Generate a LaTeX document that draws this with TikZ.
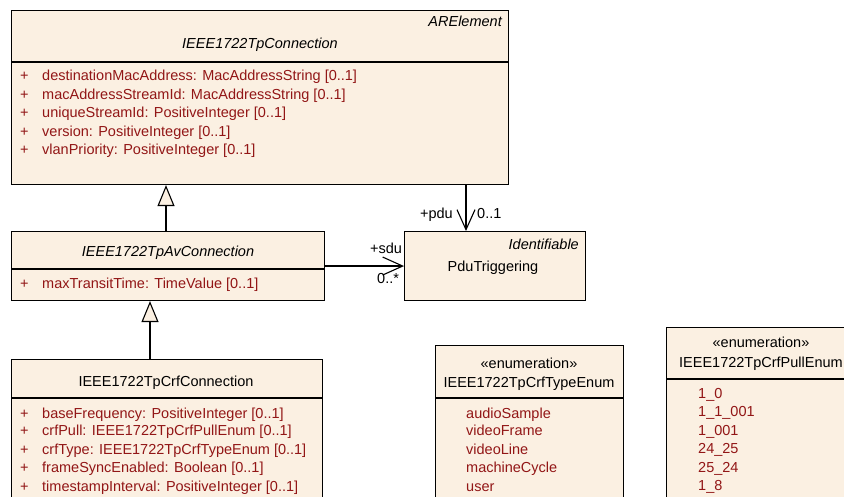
\documentclass[tikz,border=0pt]{standalone}
\usepackage{fontspec}
\setmainfont{Liberation Sans}
\usetikzlibrary{arrows.meta, positioning}
\definecolor{umlfill}{RGB}{251,240,226}
\definecolor{attrred}{RGB}{146,22,22}
\begin{document}
\begin{tikzpicture}[
    x=1pt, y=-1pt,
    font=\fontsize{14.5pt}{17pt}\selectfont,
    umlclass/.style={rectangle, draw=black, line width=1.1pt, fill=umlfill, anchor=north west, inner sep=0pt},
    divider/.style={line width=1.1pt},
    classname/.style={anchor=base, inner sep=0pt},
    stereo/.style={anchor=base east, inner sep=0pt},
    attr/.style={anchor=base west, inner sep=0pt, text=attrred},
    literal/.style={anchor=base west, inner sep=0pt, text=attrred},
    role/.style={inner sep=0pt},
    generalization/.style={-{Triangle[length=21pt, width=17pt, fill=umlfill]}, line width=1.1pt},
    association/.style={-{Straight Barb[length=20pt, width=18pt]}, line width=1.1pt}
]
\clip (0,0) rectangle (844,497);

% IEEE1722TpConnection
\node[umlclass, minimum width=497pt, minimum height=174pt] (conn) at (11,10) {};
\draw[divider] (conn.west |- 0,62) -- (conn.east |- 0,62);
\node[stereo] (connstereo) at (502,27) {\itshape ARElement};
\node[classname] (connname) at (260,49) {\itshape IEEE1722TpConnection};
\node[attr] (connattr1) at (20,81) {\makebox[22pt][l]{+}destinationMacAddress: MacAddressString [0..1]};
\node[attr] (connattr2) at (20,99.5) {\makebox[22pt][l]{+}macAddressStreamId: MacAddressString [0..1]};
\node[attr] (connattr3) at (20,118) {\makebox[22pt][l]{+}uniqueStreamId: PositiveInteger [0..1]};
\node[attr] (connattr4) at (20,136.5) {\makebox[22pt][l]{+}version: PositiveInteger [0..1]};
\node[attr] (connattr5) at (20,155) {\makebox[22pt][l]{+}vlanPriority: PositiveInteger [0..1]};

% IEEE1722TpAvConnection
\node[umlclass, minimum width=313pt, minimum height=69pt] (avconn) at (11,231) {};
\draw[divider] (avconn.west |- 0,269) -- (avconn.east |- 0,269);
\node[classname] (avconnname) at (168,257) {\itshape IEEE1722TpAvConnection};
\node[attr] (avconnattr1) at (20,289) {\makebox[22pt][l]{+}maxTransitTime: TimeValue [0..1]};

% PduTriggering
\node[umlclass, minimum width=181pt, minimum height=69pt] (pdutrig) at (404,231) {};
\node[stereo] (pdutrigstereo) at (579,250) {\itshape Identifiable};
\node[classname] (pdutrigname) at (493,272) {PduTriggering};

% IEEE1722TpCrfConnection
\node[umlclass, minimum width=311pt, minimum height=170pt] (crfconn) at (11,359) {};
\draw[divider] (crfconn.west |- 0,398) -- (crfconn.east |- 0,398);
\node[classname] (crfconnname) at (166,386) {IEEE1722TpCrfConnection};
\node[attr] (crfattr1) at (20,418) {\makebox[22pt][l]{+}baseFrequency: PositiveInteger [0..1]};
\node[attr] (crfattr2) at (20,435.5) {\makebox[22pt][l]{+}crfPull: IEEE1722TpCrfPullEnum [0..1]};
\node[attr] (crfattr3) at (20,454) {\makebox[22pt][l]{+}crfType: IEEE1722TpCrfTypeEnum [0..1]};
\node[attr] (crfattr4) at (20,472.5) {\makebox[22pt][l]{+}frameSyncEnabled: Boolean [0..1]};
\node[attr] (crfattr5) at (20,491) {\makebox[22pt][l]{+}timestampInterval: PositiveInteger [0..1]};

% IEEE1722TpCrfTypeEnum
\node[umlclass, minimum width=188pt, minimum height=180pt] (typeenum) at (435,345) {};
\draw[divider] (typeenum.west |- 0,398) -- (typeenum.east |- 0,398);
\node[classname] (typeenumstereo) at (529,368) {«enumeration»};
\node[classname] (typeenumname) at (529,387) {IEEE1722TpCrfTypeEnum};
\node[literal] (typelit1) at (466,418) {audioSample};
\node[literal] (typelit2) at (466,435.5) {videoFrame};
\node[literal] (typelit3) at (466,454) {videoLine};
\node[literal] (typelit4) at (466,472.5) {machineCycle};
\node[literal] (typelit5) at (466,491) {user};

% IEEE1722TpCrfPullEnum
\node[umlclass, minimum width=190pt, minimum height=200pt] (pullenum) at (666,327) {};
\draw[divider] (pullenum.west |- 0,379) -- (pullenum.east |- 0,379);
\node[classname] (pullenumstereo) at (761,348) {«enumeration»};
\node[classname] (pullenumname) at (761,367) {IEEE1722TpCrfPullEnum};
\node[literal] (pulllit1) at (698,398) {1\_0};
\node[literal] (pulllit2) at (698,416.5) {1\_1\_001};
\node[literal] (pulllit3) at (698,435) {1\_001};
\node[literal] (pulllit4) at (698,453.5) {24\_25};
\node[literal] (pulllit5) at (698,472) {25\_24};
\node[literal] (pulllit6) at (698,490.5) {1\_8};

% Relations
\draw[generalization] ([xshift=155pt]avconn.north west) -- ([xshift=155pt]conn.south west);
\draw[generalization] ([xshift=139pt]crfconn.north west) -- ([xshift=139pt]avconn.south west);
\draw[association] (avconn.east) -- (pdutrig.west);
\draw[association] ([xshift=455pt]conn.south west) -- ([xshift=62pt]pdutrig.north west);

% Role names and multiplicities
\node[role, anchor=base east] (pdurole) at (453,219) {+pdu};
\node[role, anchor=base west] (pdumult) at (477,219) {0..1};
\node[role, anchor=base west] (sdurole) at (370,254) {+sdu};
\node[role, anchor=base west] (sdumult) at (377,284) {0..*};

\end{tikzpicture}
\end{document}
